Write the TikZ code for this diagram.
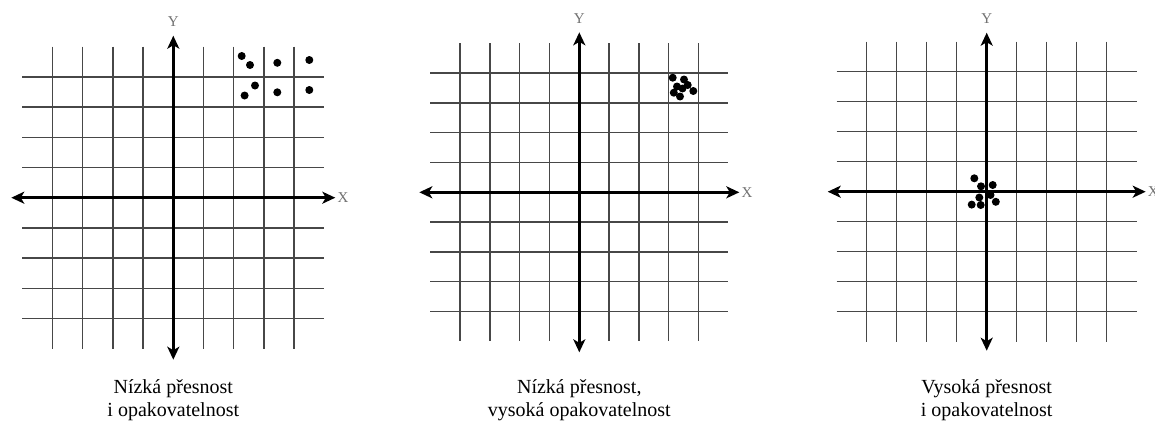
\documentclass[tikz,border=0pt]{standalone}
\usepackage{fontspec}
\setmainfont{Liberation Serif}
\usetikzlibrary{arrows.meta}
\tikzset{
  gridline/.style={draw=black!72, line width=1.5pt},
  axisline/.style={draw=black, line width=2.6pt,
    {Stealth[length=13pt,width=12pt,inset=3.5pt]}-{Stealth[length=13pt,width=12pt,inset=3.5pt]}},
  axlabel/.style={text=black!55, font=\fontsize{15}{15}\selectfont, inner sep=0pt},
  dot/.style={fill=black, circle, inner sep=0pt, minimum size=8pt},
  caption/.style={font=\fontsize{20}{23}\selectfont, align=center, inner sep=0pt, anchor=north},
}
\newcommand\drawplane[4]{% prefix, center, cell, half axis length
  \begin{scope}[shift={#2}]
    \foreach \k in {-4,-3,-2,-1,1,2,3,4}{
      \draw[gridline] (\k*#3,-5*#3) -- (\k*#3,5*#3);
      \draw[gridline] (-5*#3,\k*#3) -- (5*#3,\k*#3);
    }
    \coordinate (#1-l) at (-#4,0);
    \coordinate (#1-r) at (#4,0);
    \coordinate (#1-t) at (0,-#4);
    \coordinate (#1-b) at (0,#4);
    \draw[axisline] (#1-l) -- (#1-r);
    \draw[axisline] (#1-t) -- (#1-b);
    \node[axlabel, anchor=west] (#1-x) at ([xshift=2pt]#1-r) {X};
    \node[axlabel, anchor=south] (#1-y) at ([yshift=9pt]#1-t) {Y};
  \end{scope}
}
\begin{document}
\begin{tikzpicture}[x=1pt,y=-1pt]
\useasboundingbox (0,0) rectangle (1155,421);
\fill[white] (0,0) rectangle (1155,421);

\drawplane{a}{(173.3,197.7)}{30.2}{162}
\drawplane{b}{(579.3,192.3)}{29.8}{160}
\drawplane{c}{(986.7,191.7)}{30}{159}

% dots, plane a
\node[dot] (a1) at (241.7,56) {};
\node[dot] (a2) at (250,65) {};
\node[dot] (a3) at (277.3,62.8) {};
\node[dot] (a4) at (309.3,60) {};
\node[dot] (a5) at (255,85.5) {};
\node[dot] (a6) at (244.6,95.5) {};
\node[dot] (a7) at (277.3,92.3) {};
\node[dot] (a8) at (309.3,90) {};

% dots, plane b
\node[dot] (b1) at (672.7,77.7) {};
\node[dot] (b2) at (684,79.5) {};
\node[dot] (b3) at (687.7,85) {};
\node[dot] (b4) at (693.3,91) {};
\node[dot] (b5) at (677,86.5) {};
\node[dot] (b6) at (673.8,92.7) {};
\node[dot] (b7) at (680,96.5) {};
\node[dot] (b8) at (682.5,88.5) {};

% dots, plane c
\node[dot] (c1) at (974.3,178.3) {};
\node[dot] (c2) at (981,186.3) {};
\node[dot] (c3) at (992.7,185) {};
\node[dot] (c4) at (979.3,197.5) {};
\node[dot] (c5) at (990.5,195) {};
\node[dot] (c6) at (995.8,201.8) {};
\node[dot] (c7) at (971.7,204.6) {};
\node[dot] (c8) at (980.7,205) {};

\node[caption] (capa) at (173.3,379) {Nízká přesnost\\i opakovatelnost};
\node[caption] (capb) at (579.3,379) {Nízká přesnost,\\vysoká opakovatelnost};
\node[caption] (capc) at (986.7,379) {Vysoká přesnost\\i opakovatelnost};
\end{tikzpicture}
\end{document}
